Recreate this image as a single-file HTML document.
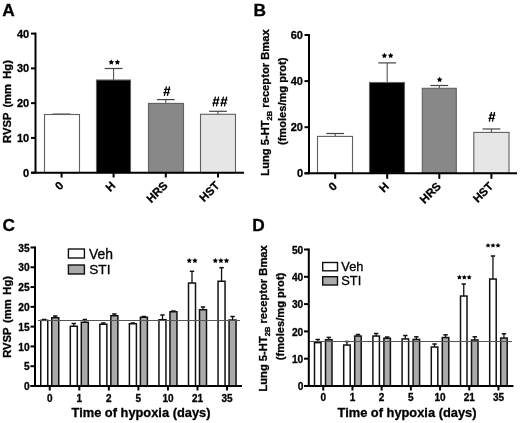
<!DOCTYPE html>
<html><head><meta charset="utf-8"><style>
html,body{margin:0;padding:0;background:#fff;}
svg{display:block;will-change:transform;}
text{font-family:"Liberation Sans",sans-serif;fill:#000;stroke:#000;stroke-width:0.3px;}
</style></head><body>
<svg width="520" height="423" viewBox="0 0 520 423">
<rect width="520" height="423" fill="#fff"/>
<text x="2.2" y="16" font-size="17.3" font-weight="bold" text-anchor="start" >A</text>
<line x1="31" y1="172.7" x2="35.5" y2="172.7" stroke="#000" stroke-width="2"/>
<text x="29.2" y="176.6" font-size="11" font-weight="bold" text-anchor="end" >0</text>
<line x1="31" y1="137.92499999999998" x2="35.5" y2="137.92499999999998" stroke="#000" stroke-width="2"/>
<text x="29.2" y="141.825" font-size="11" font-weight="bold" text-anchor="end" >10</text>
<line x1="31" y1="103.14999999999999" x2="35.5" y2="103.14999999999999" stroke="#000" stroke-width="2"/>
<text x="29.2" y="107.05" font-size="11" font-weight="bold" text-anchor="end" >20</text>
<line x1="31" y1="68.375" x2="35.5" y2="68.375" stroke="#000" stroke-width="2"/>
<text x="29.2" y="72.275" font-size="11" font-weight="bold" text-anchor="end" >30</text>
<line x1="31" y1="33.599999999999994" x2="35.5" y2="33.599999999999994" stroke="#000" stroke-width="2"/>
<text x="29.2" y="37.49999999999999" font-size="11" font-weight="bold" text-anchor="end" >40</text>
<line x1="61.6" y1="114.1" x2="61.6" y2="114.5" stroke="#444" stroke-width="1"/>
<line x1="52.7" y1="114.1" x2="70.5" y2="114.1" stroke="#444" stroke-width="1.2"/>
<rect x="44.5" y="114.5" width="35.0" height="58.19999999999999" fill="#fff" stroke="#606060" stroke-width="1.1"/>
<line x1="61.6" y1="172.7" x2="61.6" y2="177.5" stroke="#000" stroke-width="2"/>
<line x1="113.6" y1="68.5" x2="113.6" y2="80.0" stroke="#444" stroke-width="1"/>
<line x1="104.69999999999999" y1="68.5" x2="122.5" y2="68.5" stroke="#444" stroke-width="1.2"/>
<rect x="96.5" y="80.0" width="34.0" height="92.69999999999999" fill="#000" stroke="#606060" stroke-width="1.1"/>
<line x1="113.6" y1="172.7" x2="113.6" y2="177.5" stroke="#000" stroke-width="2"/>
<line x1="165.8" y1="99.6" x2="165.8" y2="103.4" stroke="#444" stroke-width="1"/>
<line x1="156.9" y1="99.6" x2="174.70000000000002" y2="99.6" stroke="#444" stroke-width="1.2"/>
<rect x="148.5" y="103.4" width="35.0" height="69.29999999999998" fill="#888" stroke="#606060" stroke-width="1.1"/>
<line x1="165.8" y1="172.7" x2="165.8" y2="177.5" stroke="#000" stroke-width="2"/>
<line x1="218.0" y1="111.3" x2="218.0" y2="114.3" stroke="#444" stroke-width="1"/>
<line x1="209.1" y1="111.3" x2="226.9" y2="111.3" stroke="#444" stroke-width="1.2"/>
<rect x="200.5" y="114.3" width="35.0" height="58.39999999999999" fill="#e6e6e6" stroke="#606060" stroke-width="1.1"/>
<line x1="218.0" y1="172.7" x2="218.0" y2="177.5" stroke="#000" stroke-width="2"/>
<line x1="35.5" y1="32.6" x2="35.5" y2="173.7" stroke="#000" stroke-width="2"/>
<line x1="31" y1="172.7" x2="244" y2="172.7" stroke="#000" stroke-width="2"/>
<text transform="translate(64.2,186.3) rotate(-45)" font-size="11.5" font-weight="bold" text-anchor="end">0</text>
<text transform="translate(116.1,186.3) rotate(-45)" font-size="11.5" font-weight="bold" text-anchor="end">H</text>
<text transform="translate(168.3,186.3) rotate(-45)" font-size="11.5" font-weight="bold" text-anchor="end">HRS</text>
<text transform="translate(220.3,186.3) rotate(-45)" font-size="11.5" font-weight="bold" text-anchor="end">HST</text>
<polygon points="111.30,59.40 112.19,61.08 114.06,61.40 112.73,62.77 113.00,64.65 111.30,63.81 109.60,64.65 109.87,62.77 108.54,61.40 110.41,61.08" fill="#000"/>
<polygon points="117.40,59.40 118.29,61.08 120.16,61.40 118.83,62.77 119.10,64.65 117.40,63.81 115.70,64.65 115.97,62.77 114.64,61.40 116.51,61.08" fill="#000"/>
<path d="M166.50,86.30 L164.30,95.90 M169.60,86.30 L167.40,95.90 M164.20,89.40 L170.40,89.40 M163.40,92.70 L169.60,92.70" stroke="#000" stroke-width="1.25" fill="none"/>
<path d="M215.48,96.55 L213.22,106.45 M218.68,96.55 L216.41,106.45 M213.11,99.75 L219.51,99.75 M212.29,103.15 L218.68,103.15" stroke="#000" stroke-width="1.25" fill="none"/>
<path d="M223.48,96.55 L221.22,106.45 M226.68,96.55 L224.41,106.45 M221.11,99.75 L227.51,99.75 M220.29,103.15 L226.68,103.15" stroke="#000" stroke-width="1.25" fill="none"/>
<text transform="translate(11,101.5) rotate(-90)" font-size="11.2" word-spacing="2.1" font-weight="bold" text-anchor="middle">RVSP (mm Hg)</text>
<text x="253.5" y="16" font-size="17.3" font-weight="bold" text-anchor="start" >B</text>
<line x1="304.5" y1="173.3" x2="309" y2="173.3" stroke="#000" stroke-width="2"/>
<text x="303" y="177.20000000000002" font-size="11" font-weight="bold" text-anchor="end" >0</text>
<line x1="304.5" y1="127.20000000000002" x2="309" y2="127.20000000000002" stroke="#000" stroke-width="2"/>
<text x="303" y="131.10000000000002" font-size="11" font-weight="bold" text-anchor="end" >20</text>
<line x1="304.5" y1="81.10000000000001" x2="309" y2="81.10000000000001" stroke="#000" stroke-width="2"/>
<text x="303" y="85.00000000000001" font-size="11" font-weight="bold" text-anchor="end" >40</text>
<line x1="304.5" y1="35.0" x2="309" y2="35.0" stroke="#000" stroke-width="2"/>
<text x="303" y="38.9" font-size="11" font-weight="bold" text-anchor="end" >60</text>
<line x1="335.2" y1="133.5" x2="335.2" y2="136.4" stroke="#444" stroke-width="1"/>
<line x1="326.3" y1="133.5" x2="344.09999999999997" y2="133.5" stroke="#444" stroke-width="1.2"/>
<rect x="317.5" y="136.4" width="35.0" height="36.900000000000006" fill="#fff" stroke="#606060" stroke-width="1.1"/>
<line x1="335.2" y1="173.3" x2="335.2" y2="178.8" stroke="#000" stroke-width="2"/>
<line x1="387.2" y1="62.9" x2="387.2" y2="82.5" stroke="#444" stroke-width="1"/>
<line x1="378.3" y1="62.9" x2="396.09999999999997" y2="62.9" stroke="#444" stroke-width="1.2"/>
<rect x="369.5" y="82.5" width="35.0" height="90.80000000000001" fill="#000" stroke="#606060" stroke-width="1.1"/>
<line x1="387.2" y1="173.3" x2="387.2" y2="178.8" stroke="#000" stroke-width="2"/>
<line x1="439.3" y1="85.5" x2="439.3" y2="88.3" stroke="#444" stroke-width="1"/>
<line x1="430.40000000000003" y1="85.5" x2="448.2" y2="85.5" stroke="#444" stroke-width="1.2"/>
<rect x="422.3" y="88.3" width="34.0" height="85.00000000000001" fill="#888" stroke="#606060" stroke-width="1.1"/>
<line x1="439.3" y1="173.3" x2="439.3" y2="178.8" stroke="#000" stroke-width="2"/>
<line x1="491.4" y1="129" x2="491.4" y2="132.4" stroke="#444" stroke-width="1"/>
<line x1="482.5" y1="129" x2="500.29999999999995" y2="129" stroke="#444" stroke-width="1.2"/>
<rect x="473.8" y="132.4" width="35.19999999999999" height="40.900000000000006" fill="#e6e6e6" stroke="#606060" stroke-width="1.1"/>
<line x1="491.4" y1="173.3" x2="491.4" y2="178.8" stroke="#000" stroke-width="2"/>
<line x1="309" y1="34" x2="309" y2="174.3" stroke="#000" stroke-width="2"/>
<line x1="304.5" y1="173.3" x2="517" y2="173.3" stroke="#000" stroke-width="2"/>
<text transform="translate(337.8,187.0) rotate(-45)" font-size="11.5" font-weight="bold" text-anchor="end">0</text>
<text transform="translate(389.7,187.0) rotate(-45)" font-size="11.5" font-weight="bold" text-anchor="end">H</text>
<text transform="translate(441.7,187.0) rotate(-45)" font-size="11.5" font-weight="bold" text-anchor="end">HRS</text>
<text transform="translate(494.0,187.0) rotate(-45)" font-size="11.5" font-weight="bold" text-anchor="end">HST</text>
<polygon points="384.40,52.80 385.29,54.48 387.16,54.80 385.83,56.17 386.10,58.05 384.40,57.21 382.70,58.05 382.97,56.17 381.64,54.80 383.51,54.48" fill="#000"/>
<polygon points="390.70,52.80 391.59,54.48 393.46,54.80 392.13,56.17 392.40,58.05 390.70,57.21 389.00,58.05 389.27,56.17 387.94,54.80 389.81,54.48" fill="#000"/>
<polygon points="439.60,76.80 440.49,78.48 442.36,78.80 441.03,80.17 441.30,82.05 439.60,81.21 437.90,82.05 438.17,80.17 436.84,78.80 438.71,78.48" fill="#000"/>
<path d="M491.50,112.00 L489.30,121.60 M494.60,112.00 L492.40,121.60 M489.20,115.10 L495.40,115.10 M488.40,118.40 L494.60,118.40" stroke="#000" stroke-width="1.25" fill="none"/>
<text transform="translate(269.1,102.5) rotate(-90)" font-size="11.2" font-weight="bold" text-anchor="middle">Lung 5-HT<tspan font-size="7.5" dy="2.5">2B</tspan><tspan dy="-2.5"> receptor Bmax</tspan></text>
<text transform="translate(285.5,101.3) rotate(-90)" font-size="11.1" font-weight="bold" text-anchor="middle">(fmoles/mg prot)</text>
<text x="2.6" y="231" font-size="17.3" font-weight="bold" text-anchor="start" >C</text>
<line x1="30.5" y1="386.0" x2="35" y2="386.0" stroke="#000" stroke-width="2"/>
<text x="29.6" y="390.1" font-size="10.2" font-weight="bold" text-anchor="end" >0</text>
<line x1="30.5" y1="366.2142857142857" x2="35" y2="366.2142857142857" stroke="#000" stroke-width="2"/>
<text x="29.6" y="370.31428571428575" font-size="10.2" font-weight="bold" text-anchor="end" >5</text>
<line x1="30.5" y1="346.42857142857144" x2="35" y2="346.42857142857144" stroke="#000" stroke-width="2"/>
<text x="29.6" y="350.52857142857147" font-size="10.2" font-weight="bold" text-anchor="end" >10</text>
<line x1="30.5" y1="326.64285714285717" x2="35" y2="326.64285714285717" stroke="#000" stroke-width="2"/>
<text x="29.6" y="330.7428571428572" font-size="10.2" font-weight="bold" text-anchor="end" >15</text>
<line x1="30.5" y1="306.8571428571429" x2="35" y2="306.8571428571429" stroke="#000" stroke-width="2"/>
<text x="29.6" y="310.9571428571429" font-size="10.2" font-weight="bold" text-anchor="end" >20</text>
<line x1="30.5" y1="287.07142857142856" x2="35" y2="287.07142857142856" stroke="#000" stroke-width="2"/>
<text x="29.6" y="291.1714285714286" font-size="10.2" font-weight="bold" text-anchor="end" >25</text>
<line x1="30.5" y1="267.2857142857143" x2="35" y2="267.2857142857143" stroke="#000" stroke-width="2"/>
<text x="29.6" y="271.3857142857143" font-size="10.2" font-weight="bold" text-anchor="end" >30</text>
<line x1="30.5" y1="247.5" x2="35" y2="247.5" stroke="#000" stroke-width="2"/>
<text x="29.6" y="251.6" font-size="10.2" font-weight="bold" text-anchor="end" >35</text>
<line x1="44.25" y1="319.5" x2="44.25" y2="320.35" stroke="#111" stroke-width="1.3"/>
<line x1="42.05" y1="319.5" x2="46.45" y2="319.5" stroke="#111" stroke-width="1.5"/>
<rect x="40.75" y="320.35" width="7" height="65.64999999999998" fill="#fff" stroke="#111" stroke-width="1.5"/>
<line x1="55.25" y1="316.0" x2="55.25" y2="317.75" stroke="#111" stroke-width="1.3"/>
<line x1="53.05" y1="316.0" x2="57.45" y2="316.0" stroke="#111" stroke-width="1.5"/>
<rect x="51.75" y="317.75" width="7" height="68.25" fill="#aaaaaa" stroke="#111" stroke-width="1.5"/>
<line x1="49.75" y1="386" x2="49.75" y2="390.5" stroke="#000" stroke-width="2"/>
<text x="49.75" y="402" font-size="10" font-weight="bold" text-anchor="middle" >0</text>
<line x1="73.8" y1="323.5" x2="73.8" y2="326.25" stroke="#111" stroke-width="1.3"/>
<line x1="71.6" y1="323.5" x2="76.0" y2="323.5" stroke="#111" stroke-width="1.5"/>
<rect x="70.3" y="326.25" width="7" height="59.75" fill="#fff" stroke="#111" stroke-width="1.5"/>
<line x1="84.8" y1="319.5" x2="84.8" y2="322.25" stroke="#111" stroke-width="1.3"/>
<line x1="82.6" y1="319.5" x2="87.0" y2="319.5" stroke="#111" stroke-width="1.5"/>
<rect x="81.3" y="322.25" width="7" height="63.75" fill="#aaaaaa" stroke="#111" stroke-width="1.5"/>
<line x1="79.3" y1="386" x2="79.3" y2="390.5" stroke="#000" stroke-width="2"/>
<text x="79.3" y="402" font-size="10" font-weight="bold" text-anchor="middle" >1</text>
<line x1="103.35" y1="323.0" x2="103.35" y2="324.25" stroke="#111" stroke-width="1.3"/>
<line x1="101.14999999999999" y1="323.0" x2="105.55" y2="323.0" stroke="#111" stroke-width="1.5"/>
<rect x="99.85" y="324.25" width="7" height="61.75" fill="#fff" stroke="#111" stroke-width="1.5"/>
<line x1="114.35" y1="314.0" x2="114.35" y2="315.75" stroke="#111" stroke-width="1.3"/>
<line x1="112.14999999999999" y1="314.0" x2="116.55" y2="314.0" stroke="#111" stroke-width="1.5"/>
<rect x="110.85" y="315.75" width="7" height="70.25" fill="#aaaaaa" stroke="#111" stroke-width="1.5"/>
<line x1="108.85" y1="386" x2="108.85" y2="390.5" stroke="#000" stroke-width="2"/>
<text x="108.85" y="402" font-size="10" font-weight="bold" text-anchor="middle" >2</text>
<line x1="132.9" y1="323.0" x2="132.9" y2="323.75" stroke="#111" stroke-width="1.3"/>
<line x1="130.70000000000002" y1="323.0" x2="135.1" y2="323.0" stroke="#111" stroke-width="1.5"/>
<rect x="129.4" y="323.75" width="7" height="62.25" fill="#fff" stroke="#111" stroke-width="1.5"/>
<line x1="143.9" y1="316.5" x2="143.9" y2="317.25" stroke="#111" stroke-width="1.3"/>
<line x1="141.70000000000002" y1="316.5" x2="146.1" y2="316.5" stroke="#111" stroke-width="1.5"/>
<rect x="140.4" y="317.25" width="7" height="68.75" fill="#aaaaaa" stroke="#111" stroke-width="1.5"/>
<line x1="138.4" y1="386" x2="138.4" y2="390.5" stroke="#000" stroke-width="2"/>
<text x="138.4" y="402" font-size="10" font-weight="bold" text-anchor="middle" >5</text>
<line x1="162.45" y1="315.0" x2="162.45" y2="319.75" stroke="#111" stroke-width="1.3"/>
<line x1="160.25" y1="315.0" x2="164.64999999999998" y2="315.0" stroke="#111" stroke-width="1.5"/>
<rect x="158.95" y="319.75" width="7" height="66.25" fill="#fff" stroke="#111" stroke-width="1.5"/>
<line x1="173.45" y1="311.0" x2="173.45" y2="311.75" stroke="#111" stroke-width="1.3"/>
<line x1="171.25" y1="311.0" x2="175.64999999999998" y2="311.0" stroke="#111" stroke-width="1.5"/>
<rect x="169.95" y="311.75" width="7" height="74.25" fill="#aaaaaa" stroke="#111" stroke-width="1.5"/>
<line x1="167.95" y1="386" x2="167.95" y2="390.5" stroke="#000" stroke-width="2"/>
<text x="167.95" y="402" font-size="10" font-weight="bold" text-anchor="middle" >10</text>
<line x1="192.0" y1="271.3" x2="192.0" y2="283.05" stroke="#111" stroke-width="1.3"/>
<line x1="189.8" y1="271.3" x2="194.2" y2="271.3" stroke="#111" stroke-width="1.5"/>
<rect x="188.5" y="283.05" width="7" height="102.94999999999999" fill="#fff" stroke="#111" stroke-width="1.5"/>
<line x1="203.0" y1="307.0" x2="203.0" y2="309.75" stroke="#111" stroke-width="1.3"/>
<line x1="200.8" y1="307.0" x2="205.2" y2="307.0" stroke="#111" stroke-width="1.5"/>
<rect x="199.5" y="309.75" width="7" height="76.25" fill="#aaaaaa" stroke="#111" stroke-width="1.5"/>
<line x1="197.5" y1="386" x2="197.5" y2="390.5" stroke="#000" stroke-width="2"/>
<text x="197.5" y="402" font-size="10" font-weight="bold" text-anchor="middle" >21</text>
<line x1="221.55" y1="267.7" x2="221.55" y2="281.25" stroke="#111" stroke-width="1.3"/>
<line x1="219.35000000000002" y1="267.7" x2="223.75" y2="267.7" stroke="#111" stroke-width="1.5"/>
<rect x="218.05" y="281.25" width="7" height="104.75" fill="#fff" stroke="#111" stroke-width="1.5"/>
<line x1="232.55" y1="316.5" x2="232.55" y2="320.05" stroke="#111" stroke-width="1.3"/>
<line x1="230.35000000000002" y1="316.5" x2="234.75" y2="316.5" stroke="#111" stroke-width="1.5"/>
<rect x="229.05" y="320.05" width="7" height="65.94999999999999" fill="#aaaaaa" stroke="#111" stroke-width="1.5"/>
<line x1="227.05" y1="386" x2="227.05" y2="390.5" stroke="#000" stroke-width="2"/>
<text x="227.05" y="402" font-size="10" font-weight="bold" text-anchor="middle" >35</text>
<line x1="38" y1="320.5" x2="240" y2="320.5" stroke="#555" stroke-width="1"/>
<line x1="35" y1="246.5" x2="35" y2="387" stroke="#000" stroke-width="2"/>
<line x1="30.5" y1="386" x2="242" y2="386" stroke="#000" stroke-width="2"/>
<polygon points="189.30,257.90 190.16,259.52 191.96,259.83 190.68,261.15 190.95,262.97 189.30,262.16 187.65,262.97 187.92,261.15 186.64,259.83 188.44,259.52" fill="#000"/>
<polygon points="194.90,257.90 195.76,259.52 197.56,259.83 196.28,261.15 196.55,262.97 194.90,262.16 193.25,262.97 193.52,261.15 192.24,259.83 194.04,259.52" fill="#000"/>
<polygon points="215.30,257.90 216.16,259.52 217.96,259.83 216.68,261.15 216.95,262.97 215.30,262.16 213.65,262.97 213.92,261.15 212.64,259.83 214.44,259.52" fill="#000"/>
<polygon points="220.90,257.90 221.76,259.52 223.56,259.83 222.28,261.15 222.55,262.97 220.90,262.16 219.25,262.97 219.52,261.15 218.24,259.83 220.04,259.52" fill="#000"/>
<polygon points="226.50,257.90 227.36,259.52 229.16,259.83 227.88,261.15 228.15,262.97 226.50,262.16 224.85,262.97 225.12,261.15 223.84,259.83 225.64,259.52" fill="#000"/>
<rect x="68.4" y="249" width="16" height="9" fill="#fff" stroke="#111" stroke-width="1.4"/>
<rect x="68.4" y="265" width="16" height="9" fill="#aaaaaa" stroke="#111" stroke-width="1.4"/>
<text x="89.0" y="258.7" font-size="13.9" font-weight="normal" text-anchor="start" >Veh</text>
<text x="89.2" y="274.3" font-size="13.7" font-weight="normal" text-anchor="start" >STI</text>
<text x="141" y="416.5" font-size="12.85" font-weight="bold" text-anchor="middle" >Time of hypoxia (days)</text>
<text transform="translate(11,316.9) rotate(-90)" font-size="11.2" word-spacing="1.6" font-weight="bold" text-anchor="middle">RVSP (mm Hg)</text>
<text x="252.2" y="231" font-size="17.3" font-weight="bold" text-anchor="start" >D</text>
<line x1="304" y1="386.0" x2="308.8" y2="386.0" stroke="#000" stroke-width="2"/>
<text x="303.3" y="390.1" font-size="10.2" font-weight="bold" text-anchor="end" >0</text>
<line x1="304" y1="358.7" x2="308.8" y2="358.7" stroke="#000" stroke-width="2"/>
<text x="303.3" y="362.8" font-size="10.2" font-weight="bold" text-anchor="end" >10</text>
<line x1="304" y1="331.4" x2="308.8" y2="331.4" stroke="#000" stroke-width="2"/>
<text x="303.3" y="335.5" font-size="10.2" font-weight="bold" text-anchor="end" >20</text>
<line x1="304" y1="304.1" x2="308.8" y2="304.1" stroke="#000" stroke-width="2"/>
<text x="303.3" y="308.20000000000005" font-size="10.2" font-weight="bold" text-anchor="end" >30</text>
<line x1="304" y1="276.8" x2="308.8" y2="276.8" stroke="#000" stroke-width="2"/>
<text x="303.3" y="280.90000000000003" font-size="10.2" font-weight="bold" text-anchor="end" >40</text>
<line x1="304" y1="249.5" x2="308.8" y2="249.5" stroke="#000" stroke-width="2"/>
<text x="303.3" y="253.6" font-size="10.2" font-weight="bold" text-anchor="end" >50</text>
<line x1="317.75" y1="339.5" x2="317.75" y2="342.65" stroke="#111" stroke-width="1.3"/>
<line x1="315.55" y1="339.5" x2="319.95" y2="339.5" stroke="#111" stroke-width="1.5"/>
<rect x="314.5" y="342.65" width="6.5" height="43.35000000000002" fill="#fff" stroke="#111" stroke-width="1.5"/>
<line x1="328.75" y1="337.4" x2="328.75" y2="339.75" stroke="#111" stroke-width="1.3"/>
<line x1="326.55" y1="337.4" x2="330.95" y2="337.4" stroke="#111" stroke-width="1.5"/>
<rect x="325.5" y="339.75" width="6.5" height="46.25" fill="#aaaaaa" stroke="#111" stroke-width="1.5"/>
<line x1="323.25" y1="386" x2="323.25" y2="390.5" stroke="#000" stroke-width="2"/>
<text x="323.25" y="401" font-size="10" font-weight="bold" text-anchor="middle" >0</text>
<line x1="346.95" y1="341.5" x2="346.95" y2="345.05" stroke="#111" stroke-width="1.3"/>
<line x1="344.75" y1="341.5" x2="349.15" y2="341.5" stroke="#111" stroke-width="1.5"/>
<rect x="343.7" y="345.05" width="6.5" height="40.94999999999999" fill="#fff" stroke="#111" stroke-width="1.5"/>
<line x1="357.95" y1="334.5" x2="357.95" y2="336.05" stroke="#111" stroke-width="1.3"/>
<line x1="355.75" y1="334.5" x2="360.15" y2="334.5" stroke="#111" stroke-width="1.5"/>
<rect x="354.7" y="336.05" width="6.5" height="49.94999999999999" fill="#aaaaaa" stroke="#111" stroke-width="1.5"/>
<line x1="352.45" y1="386" x2="352.45" y2="390.5" stroke="#000" stroke-width="2"/>
<text x="352.45" y="401" font-size="10" font-weight="bold" text-anchor="middle" >1</text>
<line x1="376.15" y1="333.5" x2="376.15" y2="336.05" stroke="#111" stroke-width="1.3"/>
<line x1="373.95" y1="333.5" x2="378.34999999999997" y2="333.5" stroke="#111" stroke-width="1.5"/>
<rect x="372.9" y="336.05" width="6.5" height="49.94999999999999" fill="#fff" stroke="#111" stroke-width="1.5"/>
<line x1="387.15" y1="337.0" x2="387.15" y2="338.25" stroke="#111" stroke-width="1.3"/>
<line x1="384.95" y1="337.0" x2="389.34999999999997" y2="337.0" stroke="#111" stroke-width="1.5"/>
<rect x="383.9" y="338.25" width="6.5" height="47.75" fill="#aaaaaa" stroke="#111" stroke-width="1.5"/>
<line x1="381.65" y1="386" x2="381.65" y2="390.5" stroke="#000" stroke-width="2"/>
<text x="381.65" y="401" font-size="10" font-weight="bold" text-anchor="middle" >2</text>
<line x1="405.35" y1="335.5" x2="405.35" y2="338.95" stroke="#111" stroke-width="1.3"/>
<line x1="403.15000000000003" y1="335.5" x2="407.55" y2="335.5" stroke="#111" stroke-width="1.5"/>
<rect x="402.1" y="338.95" width="6.5" height="47.05000000000001" fill="#fff" stroke="#111" stroke-width="1.5"/>
<line x1="416.35" y1="336.8" x2="416.35" y2="339.45" stroke="#111" stroke-width="1.3"/>
<line x1="414.15000000000003" y1="336.8" x2="418.55" y2="336.8" stroke="#111" stroke-width="1.5"/>
<rect x="413.1" y="339.45" width="6.5" height="46.55000000000001" fill="#aaaaaa" stroke="#111" stroke-width="1.5"/>
<line x1="410.85" y1="386" x2="410.85" y2="390.5" stroke="#000" stroke-width="2"/>
<text x="410.85" y="401" font-size="10" font-weight="bold" text-anchor="middle" >5</text>
<line x1="434.55" y1="344.0" x2="434.55" y2="347.05" stroke="#111" stroke-width="1.3"/>
<line x1="432.35" y1="344.0" x2="436.75" y2="344.0" stroke="#111" stroke-width="1.5"/>
<rect x="431.3" y="347.05" width="6.5" height="38.94999999999999" fill="#fff" stroke="#111" stroke-width="1.5"/>
<line x1="445.55" y1="334.8" x2="445.55" y2="337.55" stroke="#111" stroke-width="1.3"/>
<line x1="443.35" y1="334.8" x2="447.75" y2="334.8" stroke="#111" stroke-width="1.5"/>
<rect x="442.3" y="337.55" width="6.5" height="48.44999999999999" fill="#aaaaaa" stroke="#111" stroke-width="1.5"/>
<line x1="440.05" y1="386" x2="440.05" y2="390.5" stroke="#000" stroke-width="2"/>
<text x="440.05" y="401" font-size="10" font-weight="bold" text-anchor="middle" >10</text>
<line x1="463.75" y1="284.0" x2="463.75" y2="296.05" stroke="#111" stroke-width="1.3"/>
<line x1="461.55" y1="284.0" x2="465.95" y2="284.0" stroke="#111" stroke-width="1.5"/>
<rect x="460.5" y="296.05" width="6.5" height="89.94999999999999" fill="#fff" stroke="#111" stroke-width="1.5"/>
<line x1="474.75" y1="336.8" x2="474.75" y2="339.95" stroke="#111" stroke-width="1.3"/>
<line x1="472.55" y1="336.8" x2="476.95" y2="336.8" stroke="#111" stroke-width="1.5"/>
<rect x="471.5" y="339.95" width="6.5" height="46.05000000000001" fill="#aaaaaa" stroke="#111" stroke-width="1.5"/>
<line x1="469.25" y1="386" x2="469.25" y2="390.5" stroke="#000" stroke-width="2"/>
<text x="469.25" y="401" font-size="10" font-weight="bold" text-anchor="middle" >21</text>
<line x1="492.95" y1="256.0" x2="492.95" y2="279.05" stroke="#111" stroke-width="1.3"/>
<line x1="490.75" y1="256.0" x2="495.15" y2="256.0" stroke="#111" stroke-width="1.5"/>
<rect x="489.7" y="279.05" width="6.5" height="106.94999999999999" fill="#fff" stroke="#111" stroke-width="1.5"/>
<line x1="503.95" y1="333.8" x2="503.95" y2="338.05" stroke="#111" stroke-width="1.3"/>
<line x1="501.75" y1="333.8" x2="506.15" y2="333.8" stroke="#111" stroke-width="1.5"/>
<rect x="500.7" y="338.05" width="6.5" height="47.94999999999999" fill="#aaaaaa" stroke="#111" stroke-width="1.5"/>
<line x1="498.45" y1="386" x2="498.45" y2="390.5" stroke="#000" stroke-width="2"/>
<text x="498.45" y="401" font-size="10" font-weight="bold" text-anchor="middle" >35</text>
<line x1="309" y1="341.5" x2="512" y2="341.5" stroke="#555" stroke-width="1"/>
<line x1="308.8" y1="248.5" x2="308.8" y2="387" stroke="#000" stroke-width="2"/>
<line x1="304" y1="386" x2="513.5" y2="386" stroke="#000" stroke-width="2"/>
<polygon points="459.40,274.70 460.19,276.21 461.87,276.50 460.69,277.72 460.93,279.40 459.40,278.65 457.87,279.40 458.11,277.72 456.93,276.50 458.61,276.21" fill="#000"/>
<polygon points="464.30,274.70 465.09,276.21 466.77,276.50 465.59,277.72 465.83,279.40 464.30,278.65 462.77,279.40 463.01,277.72 461.83,276.50 463.51,276.21" fill="#000"/>
<polygon points="469.20,274.70 469.99,276.21 471.67,276.50 470.49,277.72 470.73,279.40 469.20,278.65 467.67,279.40 467.91,277.72 466.73,276.50 468.41,276.21" fill="#000"/>
<polygon points="488.00,242.90 488.79,244.41 490.47,244.70 489.29,245.92 489.53,247.60 488.00,246.85 486.47,247.60 486.71,245.92 485.53,244.70 487.21,244.41" fill="#000"/>
<polygon points="493.00,242.90 493.79,244.41 495.47,244.70 494.29,245.92 494.53,247.60 493.00,246.85 491.47,247.60 491.71,245.92 490.53,244.70 492.21,244.41" fill="#000"/>
<polygon points="498.00,242.90 498.79,244.41 500.47,244.70 499.29,245.92 499.53,247.60 498.00,246.85 496.47,247.60 496.71,245.92 495.53,244.70 497.21,244.41" fill="#000"/>
<rect x="322.7" y="262.5" width="14.8" height="8.3" fill="#fff" stroke="#111" stroke-width="1.4"/>
<rect x="322.7" y="276.7" width="14.8" height="8.3" fill="#aaaaaa" stroke="#111" stroke-width="1.4"/>
<text x="341.3" y="271" font-size="12.8" font-weight="normal" text-anchor="start" >Veh</text>
<text x="341.3" y="285" font-size="12.8" font-weight="normal" text-anchor="start" >STI</text>
<text x="407" y="416.5" font-size="12.85" font-weight="bold" text-anchor="middle" >Time of hypoxia (days)</text>
<text transform="translate(267.2,318.4) rotate(-90)" font-size="11.2" font-weight="bold" text-anchor="middle">Lung 5-HT<tspan font-size="7.5" dy="2.5">2B</tspan><tspan dy="-2.5"> receptor Bmax</tspan></text>
<text transform="translate(283.5,316.5) rotate(-90)" font-size="11.1" font-weight="bold" text-anchor="middle">(fmoles/mg prot)</text>
</svg>
</body></html>
